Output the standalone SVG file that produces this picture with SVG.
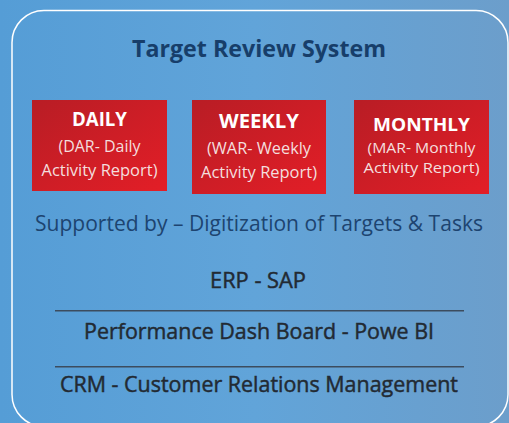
<svg xmlns="http://www.w3.org/2000/svg" width="509" height="423" viewBox="0 0 509 423">
<defs>
<linearGradient id="bg" x1="0" y1="0" x2="1" y2="0">
<stop offset="0" stop-color="#559dd6"/>
<stop offset="0.5" stop-color="#61a4d9"/>
<stop offset="1" stop-color="#6c9ecb"/>
</linearGradient>
<linearGradient id="red" x1="0" y1="0" x2="1" y2="1">
<stop offset="0" stop-color="#b81d25"/>
<stop offset="1" stop-color="#e31e27"/>
</linearGradient>
<style>
.box{fill:url(#red)}
.hd{font-family:"Open Sans","Liberation Sans",sans-serif;font-weight:bold;fill:#fff;text-anchor:middle}
.sub{font-family:"Open Sans","Liberation Sans",sans-serif;fill:#f4dede;text-anchor:middle}
.dark{font-family:"Open Sans","Liberation Sans",sans-serif;font-weight:normal;fill:#222a33;stroke:#222a33;stroke-width:0.45;text-anchor:middle}
.sep{stroke:#3c4c5e;stroke-width:1.5}
</style>
</defs>
<rect width="509" height="423" fill="url(#bg)"/>
<rect x="12" y="10.5" width="496" height="416" rx="32" fill="none" stroke="#ffffff" stroke-width="1.5"/>
<text x="259" y="57" font-family="Open Sans, Liberation Sans, sans-serif" font-weight="bold" font-size="24" fill="#173e6a" text-anchor="middle" textLength="254" lengthAdjust="spacingAndGlyphs">Target Review System</text>
<g id="daily">
<rect class="box" x="32" y="100" width="135" height="91"/>
<text class="hd" x="99.5" y="126" font-size="20" textLength="55" lengthAdjust="spacingAndGlyphs">DAILY</text>
<text class="sub" x="99.5" y="152" font-size="16" textLength="82" lengthAdjust="spacingAndGlyphs">(DAR- Daily</text>
<text class="sub" x="99.5" y="176" font-size="16" textLength="116" lengthAdjust="spacingAndGlyphs">Activity Report)</text>
</g>
<g id="weekly">
<rect class="box" x="192" y="100" width="134" height="94"/>
<text class="hd" x="259" y="128" font-size="20" textLength="80" lengthAdjust="spacingAndGlyphs">WEEKLY</text>
<text class="sub" x="259" y="154" font-size="16" textLength="104" lengthAdjust="spacingAndGlyphs">(WAR- Weekly</text>
<text class="sub" x="259" y="178" font-size="16" textLength="116" lengthAdjust="spacingAndGlyphs">Activity Report)</text>
</g>
<g id="monthly">
<rect class="box" x="354" y="100" width="135" height="94"/>
<text class="hd" x="421.5" y="131" font-size="17.5" textLength="97" lengthAdjust="spacingAndGlyphs">MONTHLY</text>
<text class="sub" x="421.5" y="153" font-size="14.5" textLength="108" lengthAdjust="spacingAndGlyphs">(MAR- Monthly</text>
<text class="sub" x="421.5" y="173" font-size="14.5" textLength="116" lengthAdjust="spacingAndGlyphs">Activity Report)</text>
</g>
<text x="259" y="231" font-family="Open Sans, Liberation Sans, sans-serif" font-size="21.5" fill="#1d4470" text-anchor="middle" textLength="448" lengthAdjust="spacingAndGlyphs">Supported by – Digitization of Targets &amp; Tasks</text>
<g id="erp"><text class="dark" x="258" y="288" font-size="21" textLength="96" lengthAdjust="spacingAndGlyphs">ERP - SAP</text></g>
<g id="connectors">
<line class="sep" x1="55" y1="310.7" x2="464" y2="310.7"/>
<line class="sep" x1="55" y1="366.7" x2="464" y2="366.7"/>
</g>
<g id="powerbi"><text class="dark" x="259" y="339" font-size="21" textLength="350" lengthAdjust="spacingAndGlyphs">Performance Dash Board - Powe BI</text></g>
<g id="crm"><text class="dark" x="259" y="392" font-size="21" textLength="398" lengthAdjust="spacingAndGlyphs">CRM - Customer Relations Management</text></g>
</svg>
